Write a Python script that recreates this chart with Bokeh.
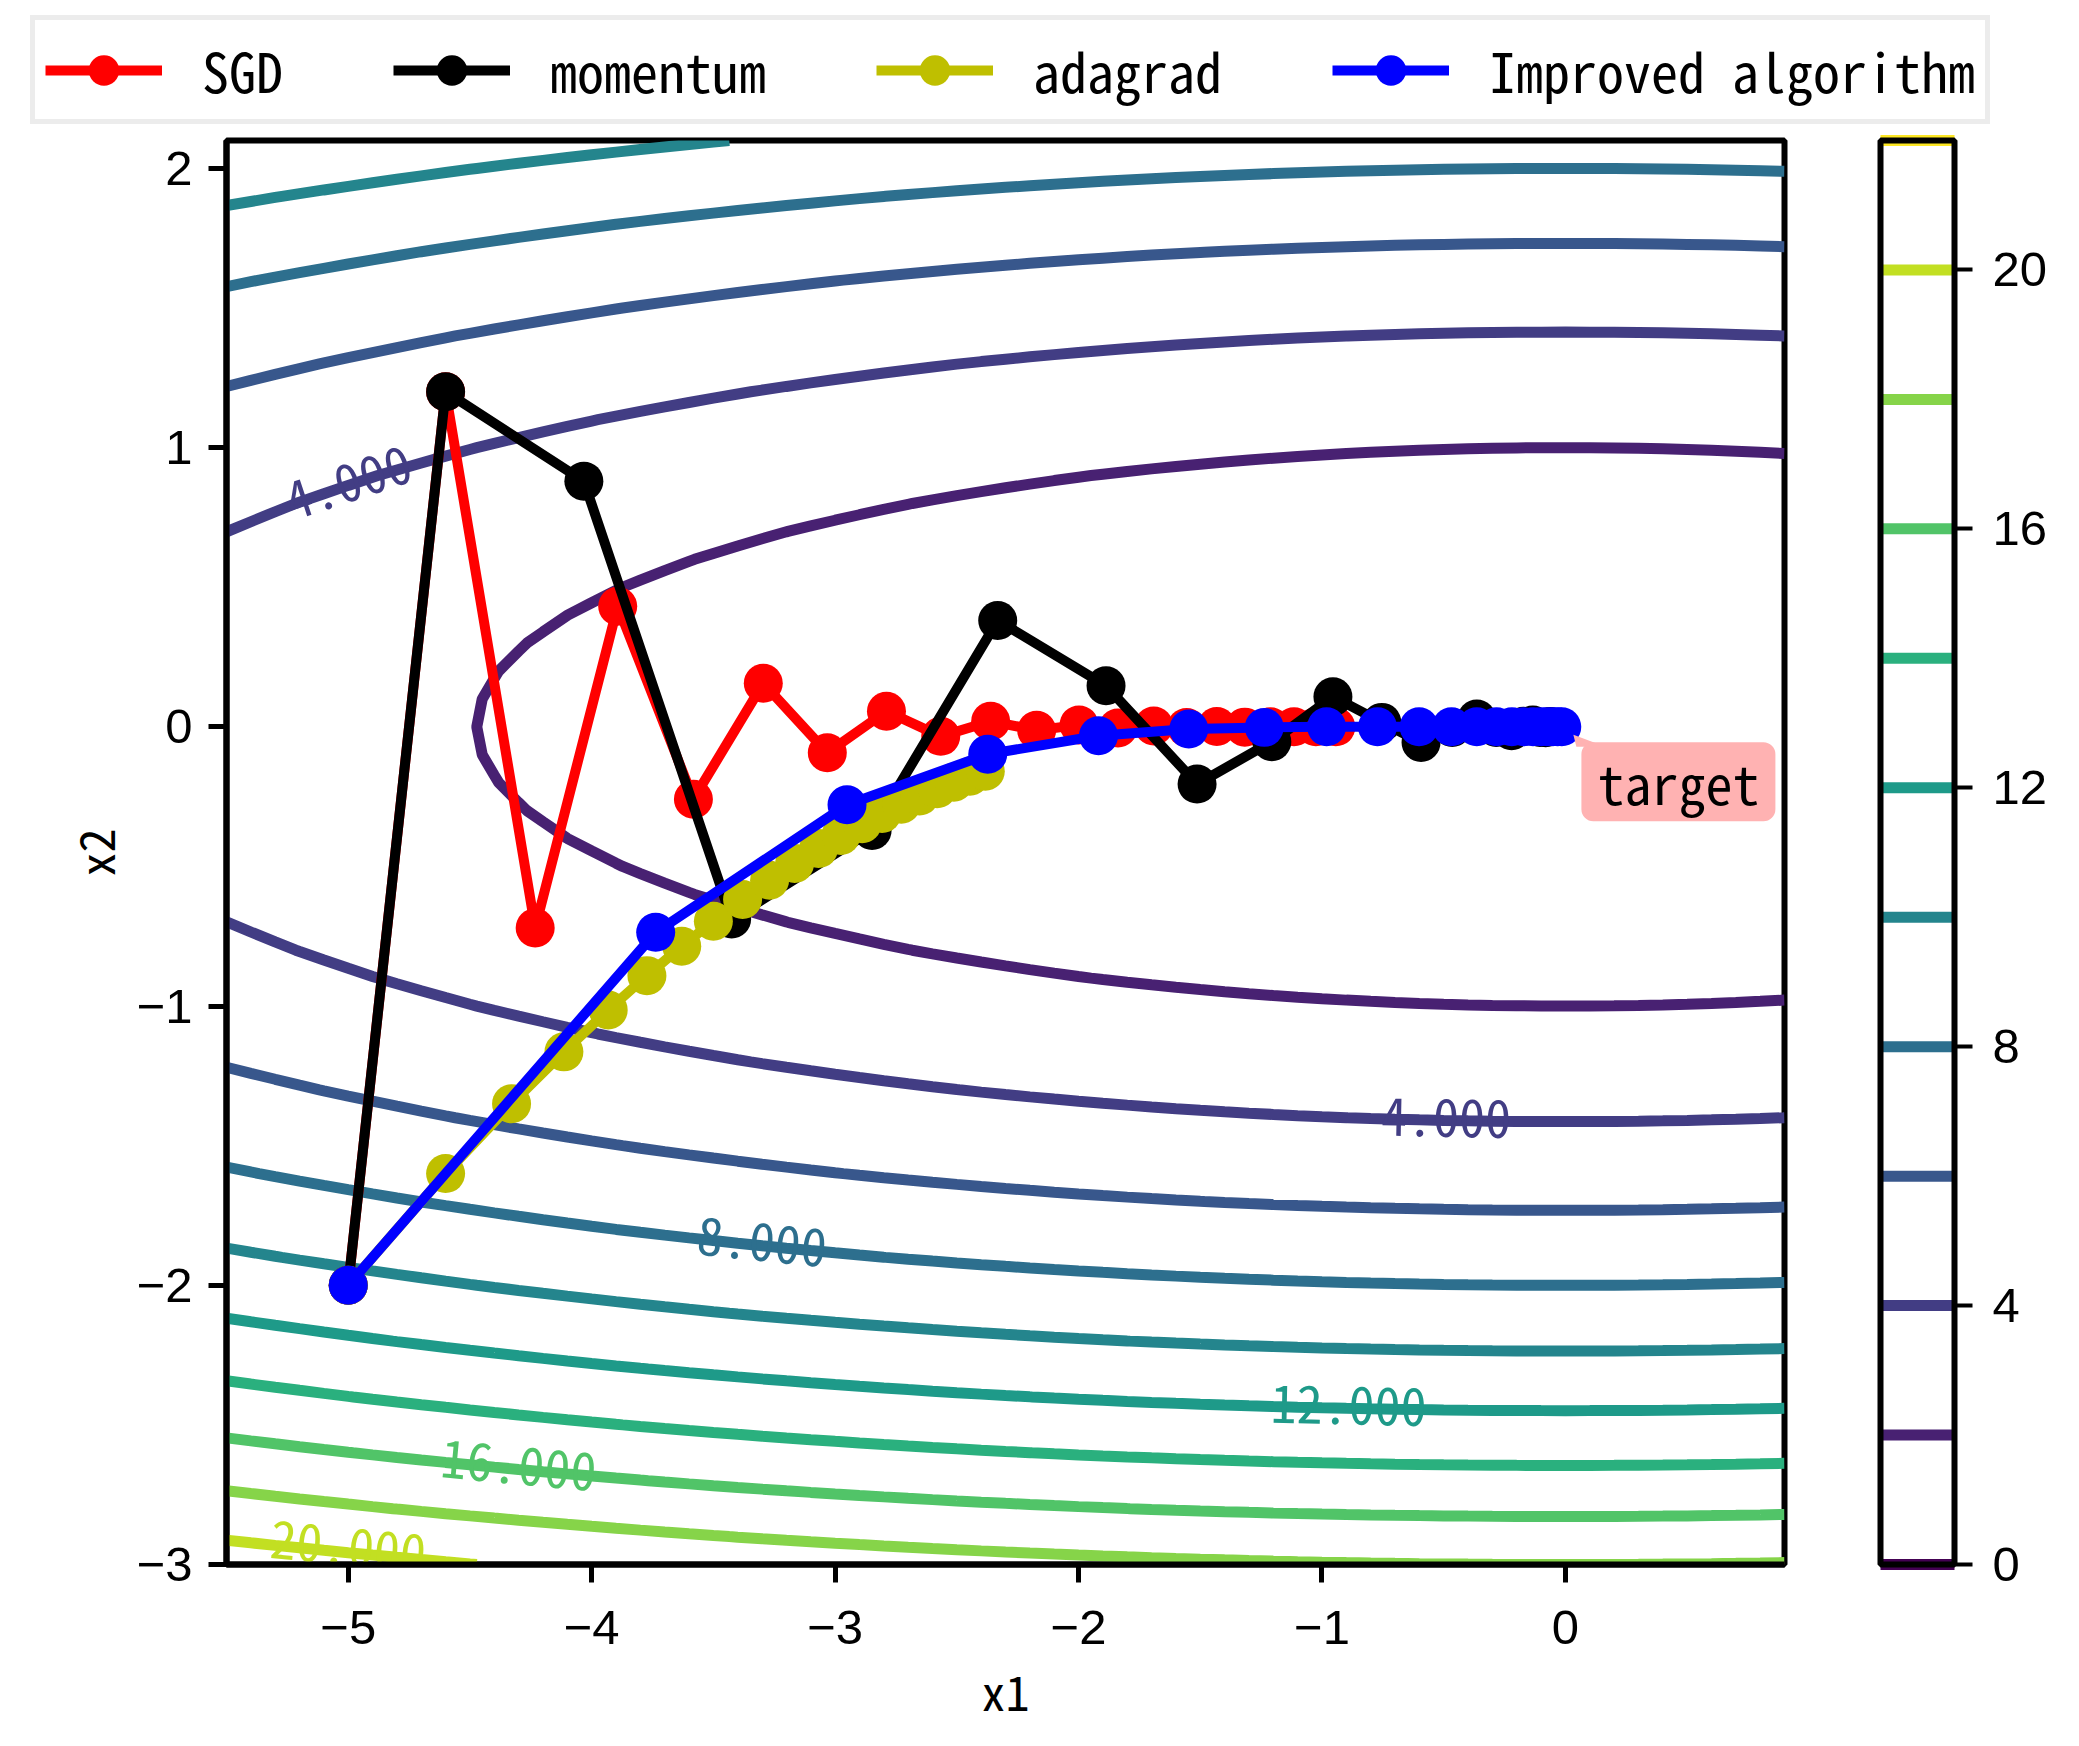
import numpy as np
from bokeh.plotting import figure
from bokeh.layouts import column
from bokeh.models import (Range1d, FixedTicker, Legend, LegendItem, Label,
                          CustomJSTickFormatter, ColorBar, LinearColorMapper)
from bokeh.core.properties import value
from bokeh.palettes import Viridis256
from bokeh.embed import file_html
from bokeh.resources import INLINE

MONO = "Noto Sans Mono CJK SC"
SANS = "Liberation Sans"

# ---- objective surface shown as contour background: f = c1*x1^2 + c2*x2^2
c1, c2 = 0.1, 2.0
grid_x1 = np.arange(-5.5, 0.95, 0.1)
grid_x2 = np.arange(-3.0, 2.15, 0.1)
contour_levels = [0, 2, 4, 6, 8, 10, 12, 14, 16, 18, 20, 22]
cbar_ticks = [0, 4, 8, 12, 16, 20]

# ---- optimisation trajectories
sgd_x1 = [-5.0, -4.6, -4.232, -3.893, -3.582, -3.295, -3.032, -2.789, -2.566,
          -2.361, -2.172, -1.998, -1.838, -1.691, -1.556, -1.432, -1.317,
          -1.212, -1.115, -1.025, -0.943]
sgd_x2 = [-2.0, 1.2, -0.72, 0.432, -0.259, 0.156, -0.093, 0.056, -0.034,
          0.020, -0.012, 0.007, -0.004, 0.003, -0.002, 0.001, -0.001,
          0.0, 0.0, 0.0, 0.0]

mom_x1 = [-5.0, -4.6, -4.032, -3.425, -2.848, -2.332, -1.887, -1.513, -1.206,
          -0.955, -0.754, -0.593, -0.465, -0.364, -0.284, -0.221, -0.172,
          -0.134, -0.104, -0.081, -0.063]
mom_x2 = [-2.0, 1.2, 0.88, -0.688, -0.371, 0.381, 0.147, -0.205, -0.053,
          0.108, 0.016, -0.056, -0.002, 0.028, -0.002, -0.014, 0.002,
          0.007, -0.002, -0.003, 0.001]

ada_x1 = [-5.0, -4.6, -4.329, -4.114, -3.932, -3.773, -3.630, -3.500, -3.380,
          -3.269, -3.166, -3.068, -2.976, -2.889, -2.807, -2.728, -2.653,
          -2.581, -2.512, -2.446, -2.383]
ada_x2 = [-2.0, -1.6, -1.350, -1.164, -1.014, -0.891, -0.786, -0.696, -0.618,
          -0.549, -0.489, -0.436, -0.389, -0.347, -0.310, -0.277, -0.248,
          -0.222, -0.198, -0.177, -0.159]

imp_x1 = [-5.0, -3.737, -2.951, -2.373, -1.918, -1.547, -1.237, -0.981, -0.772,
          -0.601, -0.468, -0.364, -0.283, -0.220, -0.171, -0.133, -0.100,
          -0.075, -0.052, -0.032, -0.015]
imp_x2 = [-2.0, -0.736, -0.279, -0.098, -0.032, -0.008, -0.002, 0.0, 0.0,
          0.0, 0.0, 0.0, 0.0, 0.0, 0.0, 0.0, 0.0, 0.0, 0.0, 0.0, 0.0]

series_names = ["SGD", "momentum", "adagrad", "Improved algorithm"]
series_colors = ["#ff0000", "#000000", "#bfbf00", "#0000ff"]

# contour labels (level, position on the contour, text angle in degrees)
lab_level = [4, 4, 8, 12, 16, 20]
lab_x1 = [-5.00, -0.49, -3.30, -0.89, -4.30, -5.00]
lab_x2 = [0.875, -1.40, -1.845, -2.43, -2.645, -2.935]
lab_angle = [18.3, -1.1, -5.8, -1.2, -5.3, -5.5]

target_x1, target_x2 = 0.0, 0.0

# screen scale of the frame (px per data unit), used for the annotation pointer
PX_X, PX_Y = 1558 / 6.4, 1424 / 5.1

LW_TRAJ = 10
LW_CONT = 11
MARKER = 39


def viridis(level):
    return Viridis256[min(255, int(level / 22.0 * 256))]


# ---------------- main axes ----------------
p = figure(frame_width=1558, frame_height=1424,
           min_border_left=226, min_border_right=279,
           min_border_top=8, min_border_bottom=166,
           x_range=Range1d(-5.5, 0.9), y_range=Range1d(-3.0, 2.1),
           output_backend="svg", toolbar_location=None,
           background_fill_color="white", border_fill_color="white")
p.frame_align = False

X, Y = np.meshgrid(grid_x1, grid_x2)
Z = c1 * X ** 2 + c2 * Y ** 2
level_colors = [viridis(l) for l in contour_levels]
cr = p.contour(grid_x1, grid_x2, Z, contour_levels,
               line_color=level_colors, line_width=LW_CONT)

# contour labels
p.text(x=lab_x1, y=lab_x2, text=[f"{l:.3f}" for l in lab_level],
       angle=lab_angle, angle_units="deg",
       text_color=[viridis(l) for l in lab_level],
       text_font=value(MONO), text_font_size=value("52px"),
       text_align="center", text_baseline="middle")

for xs, ys, col in zip([sgd_x1, mom_x1, ada_x1, imp_x1],
                       [sgd_x2, mom_x2, ada_x2, imp_x2],
                       series_colors):
    p.line(xs, ys, line_color=col, line_width=LW_TRAJ)
    p.scatter(xs, ys, size=MARKER, fill_color=col, line_color=None)

# contour colour bar (lines at each level) on a white background
cb = cr.construct_color_bar(
    width=74, height=1424,
    location=(1654, 0), padding=0, margin=0,
    major_tick_in=0, major_tick_out=18, major_tick_line_color="black",
    major_tick_line_width=4, minor_tick_line_color=None, label_standoff=20,
    major_label_text_font=SANS, major_label_text_font_size="49px",
    major_label_text_color="black",
    background_fill_color="white", border_line_color=None)
cb.ticker = FixedTicker(ticks=cbar_ticks)
p.add_layout(cb, "center")

# transparent bar on top that only draws the black outline of the colour bar
outline_bar = ColorBar(
    color_mapper=LinearColorMapper(palette=["#ffffff00"], low=0, high=22),
    width=74, height=1424, location=(1654, 0), padding=0, margin=0,
    bar_line_color="black", bar_line_width=6,
    ticker=FixedTicker(ticks=[]), major_tick_line_color=None,
    minor_tick_line_color=None, major_label_text_alpha=0,
    background_fill_color=None, border_line_color=None)
p.add_layout(outline_bar, "center")

# "target" annotation: rounded pink box with a small pointer wedge
ptr_dx = [8 / PX_X, 11 / PX_X, 40 / PX_X]
ptr_dy = [-8 / PX_Y, -20 / PX_Y, -20 / PX_Y]
p.patch([target_x1 + d for d in ptr_dx], [target_x2 + d for d in ptr_dy],
        fill_color="#ffb2b2", line_color=None)
target = Label(x=target_x1, y=target_x2, x_offset=113, y_offset=-55,
               text="target", text_font=MONO, text_font_size="54px",
               text_color="black",
               text_align="center", text_baseline="middle",
               background_fill_color="#ffb2b2", border_radius=12,
               padding=dict(left=16, right=16, top=0, bottom=0))
p.add_layout(target)

fmt = CustomJSTickFormatter(code="return tick < 0 ? '\\u2212' + Math.abs(tick) : String(tick);")
p.xaxis.ticker = FixedTicker(ticks=[-5, -4, -3, -2, -1, 0])
p.yaxis.ticker = FixedTicker(ticks=[-3, -2, -1, 0, 1, 2])
p.xaxis.axis_label = "x1"
p.yaxis.axis_label = "x2"
for ax in (p.xaxis[0], p.yaxis[0]):
    ax.formatter = fmt
    ax.axis_line_width = 6
    ax.axis_line_color = "black"
    ax.major_tick_line_width = 5
    ax.major_tick_line_color = "black"
    ax.major_tick_out = 18
    ax.major_tick_in = 0
    ax.minor_tick_line_color = None
    ax.major_label_text_font = SANS
    ax.major_label_text_font_size = "49px"
    ax.major_label_text_color = "black"
    ax.axis_label_text_font = MONO
    ax.axis_label_text_font_size = "48px"
    ax.axis_label_text_font_style = "normal"
    ax.axis_label_text_color = "black"
p.xaxis.major_label_standoff = 28
p.xaxis.axis_label_standoff = 8
p.yaxis.major_label_standoff = 16
p.yaxis.axis_label_standoff = 5
p.xgrid.visible = False
p.ygrid.visible = False
p.outline_line_color = "black"
p.outline_line_width = 6
p.outline_line_alpha = 1.0

# ---------------- legend strip above the axes ----------------
LW, LH = 2063, 132
lg = figure(width=LW, height=LH, min_border=0,
            x_range=Range1d(0, LW), y_range=Range1d(0, LH),
            output_backend="svg", toolbar_location=None,
            background_fill_color="white", border_fill_color="white")
lg.frame_align = False
lg.axis.visible = False
lg.grid.visible = False
lg.outline_line_color = None

items = []
for name, col in zip(series_names, series_colors):
    lr = lg.line([-100, -99], [-100, -100], line_color=col, line_width=LW_TRAJ)
    sr = lg.scatter([-100], [-100], size=MARKER, fill_color=col, line_color=None)
    items.append(LegendItem(label=name, renderers=[lr, sr]))

legend = Legend(items=items, orientation="horizontal", location=(30, 8),
                glyph_width=117, glyph_height=76, label_standoff=40,
                spacing=110, padding=10, margin=0,
                label_text_font=MONO, label_text_font_size="54px",
                label_text_color="black",
                border_line_color="#d9d9d9", border_line_width=5,
                background_fill_color="white", background_fill_alpha=1.0)
lg.add_layout(legend, "center")

layout = column(lg, p, spacing=0)
open("out.html", "w").write(file_html(layout, INLINE))
